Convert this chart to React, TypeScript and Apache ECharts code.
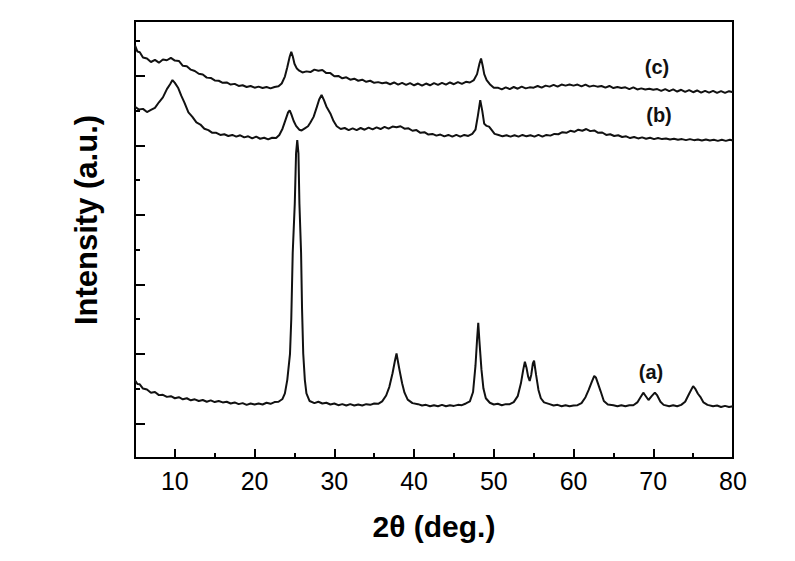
import React, { useEffect, useRef } from "react";
import * as echarts from "echarts";

// 2-theta (deg.) / intensity (a.u., offset traces) pairs
const seriesA: [number, number][] = [
  [5.0, 2.24], [5.3, 2.13], [5.6, 2.12], [6.0, 2.0], [6.5, 1.97], [7.0, 1.88], [7.5, 1.9], [8.0, 1.81],
  [8.5, 1.82], [9.0, 1.76], [9.5, 1.78], [10.0, 1.72], [10.5, 1.75], [11.0, 1.69], [11.5, 1.72], [12.0, 1.66],
  [12.5, 1.69], [13.0, 1.64], [13.5, 1.67], [14.0, 1.62], [14.5, 1.66], [15.0, 1.61], [15.5, 1.64], [16.0, 1.6],
  [16.5, 1.62], [17.0, 1.57], [17.5, 1.6], [18.0, 1.55], [18.5, 1.58], [19.0, 1.53], [19.5, 1.57], [20.0, 1.54],
  [20.5, 1.57], [21.0, 1.54], [21.5, 1.59], [22.0, 1.56], [22.5, 1.61], [23.0, 1.62], [23.5, 1.7], [23.8, 1.86],
  [24.1, 2.25], [24.44, 3.0], [24.6, 4.0], [24.78, 5.9], [25.04, 7.33], [25.2, 8.77], [25.35, 9.15], [25.5, 8.77],
  [25.62, 7.33], [25.83, 5.9], [25.95, 4.3], [26.1, 3.0], [26.3, 2.25], [26.5, 1.86], [26.9, 1.64], [27.5, 1.58],
  [28.0, 1.62], [28.5, 1.57], [29.0, 1.59], [29.5, 1.54], [30.0, 1.57], [30.5, 1.52], [31.0, 1.55], [31.5, 1.51],
  [32.0, 1.55], [32.5, 1.51], [33.0, 1.54], [33.5, 1.51], [34.0, 1.55], [34.5, 1.53], [35.0, 1.57], [35.5, 1.56],
  [36.0, 1.63], [36.5, 1.8], [36.9, 2.05], [37.3, 2.44], [37.6, 2.8], [37.8, 3.01], [38.0, 2.75], [38.2, 2.5],
  [38.5, 2.15], [38.8, 1.88], [39.2, 1.68], [39.8, 1.58], [40.5, 1.55], [41.0, 1.51], [41.5, 1.53], [42.0, 1.49],
  [42.5, 1.52], [43.0, 1.49], [43.5, 1.53], [44.0, 1.49], [44.5, 1.52], [45.0, 1.5], [45.5, 1.53], [46.0, 1.52],
  [46.5, 1.57], [47.0, 1.63], [47.4, 1.9], [47.7, 2.65], [47.9, 3.4], [48.05, 3.89], [48.2, 3.35], [48.45, 2.55],
  [48.7, 2.0], [49.0, 1.72], [49.5, 1.59], [50.0, 1.54], [50.5, 1.56], [51.0, 1.52], [51.5, 1.55], [52.0, 1.55],
  [52.5, 1.61], [53.0, 1.78], [53.4, 2.15], [53.7, 2.55], [53.9, 2.77], [54.1, 2.6], [54.3, 2.35], [54.5, 2.22],
  [54.7, 2.4], [54.9, 2.72], [55.05, 2.8], [55.3, 2.4], [55.6, 1.96], [55.9, 1.72], [56.3, 1.6], [57.0, 1.55],
  [57.5, 1.51], [58.0, 1.53], [58.5, 1.49], [59.0, 1.52], [59.5, 1.49], [60.0, 1.51], [60.5, 1.52], [61.0, 1.58],
  [61.5, 1.75], [61.9, 1.96], [62.3, 2.2], [62.6, 2.36], [62.8, 2.32], [63.1, 2.12], [63.4, 1.92], [63.8, 1.64],
  [64.3, 1.54], [65.0, 1.52], [65.5, 1.49], [66.0, 1.52], [66.5, 1.49], [67.0, 1.52], [67.5, 1.52], [68.0, 1.6],
  [68.4, 1.75], [68.75, 1.88], [69.0, 1.8], [69.4, 1.67], [69.8, 1.78], [70.2, 1.88], [70.5, 1.8], [70.9, 1.62],
  [71.3, 1.53], [72.0, 1.49], [72.5, 1.52], [73.0, 1.49], [73.5, 1.53], [74.0, 1.62], [74.5, 1.85], [75.0, 2.07],
  [75.3, 1.98], [75.6, 1.85], [75.9, 1.76], [76.3, 1.6], [76.8, 1.53], [77.5, 1.49], [78.0, 1.51], [78.5, 1.47],
  [79.0, 1.5], [79.5, 1.47], [80.0, 1.49],
];

const seriesB: [number, number][] = [
  [5.0, 10.11], [5.5, 10.03], [6.0, 10.05], [6.5, 9.96], [7.0, 10.02], [7.5, 10.08], [8.0, 10.24], [8.5, 10.38],
  [9.0, 10.62], [9.4, 10.76], [9.7, 10.88], [10.0, 10.8], [10.4, 10.66], [10.8, 10.43], [11.2, 10.23], [11.7, 9.95],
  [12.2, 9.82], [12.7, 9.66], [13.2, 9.6], [13.7, 9.48], [14.2, 9.44], [14.7, 9.36], [15.2, 9.36], [15.7, 9.3],
  [16.2, 9.32], [16.7, 9.27], [17.2, 9.3], [17.7, 9.25], [18.2, 9.29], [18.7, 9.23], [19.2, 9.26], [19.7, 9.2],
  [20.2, 9.25], [20.7, 9.19], [21.2, 9.22], [21.7, 9.17], [22.2, 9.22], [22.7, 9.21], [23.1, 9.3], [23.5, 9.48],
  [23.9, 9.75], [24.2, 9.95], [24.4, 10.01], [24.6, 9.9], [24.9, 9.7], [25.2, 9.56], [25.6, 9.45], [25.9, 9.43],
  [26.3, 9.49], [26.7, 9.55], [27.0, 9.66], [27.4, 9.82], [27.8, 10.1], [28.1, 10.32], [28.4, 10.45], [28.7, 10.3],
  [29.0, 10.12], [29.5, 9.92], [29.9, 9.7], [30.3, 9.55], [30.8, 9.47], [31.3, 9.5], [31.8, 9.44], [32.3, 9.49],
  [32.8, 9.44], [33.3, 9.5], [33.8, 9.45], [34.3, 9.51], [34.8, 9.46], [35.3, 9.52], [35.8, 9.47], [36.3, 9.53],
  [36.8, 9.48], [37.3, 9.54], [37.8, 9.52], [38.3, 9.55], [38.8, 9.48], [39.3, 9.49], [39.8, 9.42], [40.3, 9.44],
  [40.8, 9.36], [41.3, 9.38], [41.8, 9.31], [42.3, 9.33], [42.8, 9.28], [43.3, 9.31], [43.8, 9.26], [44.3, 9.3],
  [44.8, 9.25], [45.3, 9.3], [45.8, 9.25], [46.3, 9.3], [46.8, 9.27], [47.3, 9.33], [47.7, 9.45], [48.0, 9.85],
  [48.3, 10.3], [48.55, 10.0], [48.8, 9.62], [49.1, 9.56], [49.4, 9.54], [49.7, 9.45], [50.1, 9.33], [50.6, 9.3],
  [51.1, 9.26], [51.6, 9.29], [52.1, 9.25], [52.6, 9.29], [53.1, 9.25], [53.6, 9.3], [54.1, 9.26], [54.6, 9.29],
  [55.1, 9.25], [55.6, 9.3], [56.1, 9.25], [56.6, 9.3], [57.1, 9.28], [57.6, 9.33], [58.1, 9.32], [58.6, 9.38],
  [59.1, 9.36], [59.6, 9.42], [60.1, 9.39], [60.6, 9.45], [61.1, 9.42], [61.6, 9.47], [62.1, 9.41], [62.6, 9.43],
  [63.1, 9.36], [63.6, 9.37], [64.1, 9.3], [64.6, 9.32], [65.1, 9.27], [65.6, 9.29], [66.1, 9.24], [66.6, 9.26],
  [67.1, 9.21], [67.6, 9.24], [68.1, 9.2], [68.6, 9.23], [69.1, 9.19], [69.6, 9.22], [70.1, 9.18], [70.6, 9.21],
  [71.1, 9.18], [71.6, 9.2], [72.1, 9.17], [72.6, 9.19], [73.1, 9.16], [73.6, 9.18], [74.1, 9.15], [74.6, 9.18],
  [75.1, 9.15], [75.6, 9.17], [76.1, 9.14], [76.6, 9.17], [77.1, 9.14], [77.6, 9.16], [78.1, 9.13], [78.6, 9.16],
  [79.1, 9.13], [79.6, 9.16], [80.0, 9.14],
];

const seriesC: [number, number][] = [
  [5.0, 11.88], [5.3, 11.7], [5.6, 11.68], [6.0, 11.53], [6.5, 11.5], [7.0, 11.4], [7.5, 11.46], [8.0, 11.38],
  [8.5, 11.47], [9.0, 11.45], [9.5, 11.52], [10.0, 11.44], [10.5, 11.43], [11.0, 11.29], [11.5, 11.28], [12.0, 11.18],
  [12.5, 11.14], [13.0, 11.06], [13.5, 11.04], [14.0, 10.95], [14.5, 10.94], [15.0, 10.87], [15.5, 10.86], [16.0, 10.8],
  [16.5, 10.81], [17.0, 10.75], [17.5, 10.77], [18.0, 10.71], [18.5, 10.73], [19.0, 10.68], [19.5, 10.71], [20.0, 10.66],
  [20.5, 10.69], [21.0, 10.65], [21.5, 10.68], [22.0, 10.64], [22.5, 10.68], [23.0, 10.7], [23.4, 10.78], [23.8, 10.98],
  [24.1, 11.25], [24.4, 11.55], [24.6, 11.69], [24.8, 11.55], [25.0, 11.35], [25.3, 11.21], [25.6, 11.15], [26.0, 11.1],
  [26.5, 11.13], [27.0, 11.11], [27.5, 11.18], [28.0, 11.15], [28.5, 11.17], [29.0, 11.08], [29.5, 11.08], [30.0, 10.99],
  [30.5, 11.0], [31.0, 10.93], [31.5, 10.96], [32.0, 10.89], [32.5, 10.92], [33.0, 10.86], [33.5, 10.89], [34.0, 10.83],
  [34.5, 10.86], [35.0, 10.8], [35.5, 10.82], [36.0, 10.79], [36.5, 10.81], [37.0, 10.76], [37.5, 10.81], [38.0, 10.75],
  [38.5, 10.8], [39.0, 10.74], [39.5, 10.79], [40.0, 10.73], [40.5, 10.78], [41.0, 10.72], [41.5, 10.78], [42.0, 10.73],
  [42.5, 10.79], [43.0, 10.74], [43.5, 10.8], [44.0, 10.75], [44.5, 10.81], [45.0, 10.76], [45.5, 10.82], [46.0, 10.77],
  [46.5, 10.83], [47.0, 10.81], [47.5, 10.88], [47.9, 11.05], [48.2, 11.35], [48.4, 11.5], [48.6, 11.3], [48.8, 11.05],
  [49.1, 10.88], [49.5, 10.76], [50.0, 10.66], [50.5, 10.66], [51.0, 10.61], [51.5, 10.67], [52.0, 10.62], [52.5, 10.68],
  [53.0, 10.63], [53.5, 10.69], [54.0, 10.64], [54.5, 10.67], [55.0, 10.66], [55.5, 10.71], [56.0, 10.66], [56.5, 10.72],
  [57.0, 10.69], [57.5, 10.74], [58.0, 10.69], [58.5, 10.75], [59.0, 10.72], [59.5, 10.75], [60.0, 10.72], [60.5, 10.75],
  [61.0, 10.7], [61.5, 10.75], [62.0, 10.69], [62.5, 10.72], [63.0, 10.69], [63.5, 10.71], [64.0, 10.66], [64.5, 10.71],
  [65.0, 10.65], [65.5, 10.68], [66.0, 10.65], [66.5, 10.67], [67.0, 10.62], [67.5, 10.67], [68.0, 10.61], [68.5, 10.64],
  [69.0, 10.61], [69.5, 10.63], [70.0, 10.6], [70.5, 10.62], [71.0, 10.57], [71.5, 10.62], [72.0, 10.56], [72.5, 10.61],
  [73.0, 10.55], [73.5, 10.6], [74.0, 10.54], [74.5, 10.59], [75.0, 10.53], [75.5, 10.58], [76.0, 10.52], [76.5, 10.57],
  [77.0, 10.52], [77.5, 10.57], [78.0, 10.51], [78.5, 10.56], [79.0, 10.51], [79.5, 10.56], [80.0, 10.53],
];

const seriesNames = ["(a)", "(b)", "(c)"];
const xRange = [5, 80];
const xMajorTicks = [10, 20, 30, 40, 50, 60, 70, 80];
const xMinorStep = 5;
const yRange = [0, 12.58];
const yMajorTicks = [1, 3, 5, 7, 9, 11];
const yMinorStep = 1;
const xTitle = "2\u03b8 (deg.)";
const yTitle = "Intensity (a.u.)";

const FONT = "'Liberation Sans', Arial, Helvetica, sans-serif";

export default function App() {
  const ref = useRef<HTMLDivElement>(null);
  useEffect(() => {
    if (!ref.current) return;
    const chart = echarts.init(ref.current, undefined, { renderer: "svg" });
    const grid = { left: 135, right: 62, top: 21, bottom: 103 };
    const lineSeries = [seriesA, seriesB, seriesC].map((d, i) => ({
      name: seriesNames[i],
      type: "line" as const,
      data: d,
      xAxisIndex: 0,
      yAxisIndex: 0,
      showSymbol: false,
      symbol: "none",
      smooth: false,
      lineStyle: { color: "#111", width: 2 },
      silent: true,
    }));
    const tickStyle = { color: "#000", width: 2 };
    chart.setOption({
      animation: false,
      backgroundColor: "#fff",
      grid: { ...grid, show: true, borderColor: "#000", borderWidth: 2, backgroundColor: "transparent" },
      xAxis: [
        {
          type: "value",
          min: xRange[0],
          max: xRange[1],
          position: "bottom",
          axisLine: { show: false, onZero: false },
          axisTick: { show: true, inside: true, length: 9, lineStyle: tickStyle, customValues: xMajorTicks },
          axisLabel: {
            show: true,
            margin: 10,
            fontSize: 25,
            fontFamily: FONT,
            color: "#000",
            customValues: xMajorTicks,
          },
          splitLine: { show: false },
        },
        {
          type: "value",
          min: xRange[0],
          max: xRange[1],
          interval: xMinorStep,
          position: "bottom",
          axisLine: { show: false, onZero: false },
          axisTick: { show: true, inside: true, length: 5, lineStyle: tickStyle },
          axisLabel: { show: false },
          splitLine: { show: false },
        },
      ],
      yAxis: [
        {
          type: "value",
          min: yRange[0],
          max: yRange[1],
          interval: yMinorStep,
          position: "left",
          axisLine: { show: false, onZero: false },
          axisTick: { show: true, inside: true, length: 5, lineStyle: tickStyle },
          axisLabel: { show: false },
          splitLine: { show: false },
        },
        {
          type: "value",
          min: yRange[0],
          max: yRange[1],
          position: "left",
          axisLine: { show: false, onZero: false },
          axisTick: { show: true, inside: true, length: 10, lineStyle: tickStyle, customValues: yMajorTicks },
          axisLabel: { show: false },
          splitLine: { show: false },
        },
      ],
      series: lineSeries,
      graphic: [
        {
          type: "text",
          x: 434,
          y: 526,
          style: {
            text: xTitle,
            font: `bold 30px ${FONT}`,
            fill: "#000",
            align: "center",
            verticalAlign: "middle",
          },
        },
        {
          type: "text",
          x: 86,
          y: 220,
          rotation: Math.PI / 2,
          style: {
            text: yTitle,
            font: `bold 31px ${FONT}`,
            fill: "#000",
            align: "center",
            verticalAlign: "middle",
          },
        },
        {
          type: "text",
          x: 651,
          y: 372,
          style: { text: seriesNames[0], font: `bold 20px ${FONT}`, fill: "#111", align: "center", verticalAlign: "middle" },
        },
        {
          type: "text",
          x: 659,
          y: 115,
          style: { text: seriesNames[1], font: `bold 20px ${FONT}`, fill: "#111", align: "center", verticalAlign: "middle" },
        },
        {
          type: "text",
          x: 657,
          y: 67,
          style: { text: seriesNames[2], font: `bold 20px ${FONT}`, fill: "#111", align: "center", verticalAlign: "middle" },
        },
      ],
    });
    return () => chart.dispose();
  }, []);
  return <div ref={ref} style={{ width: 795, height: 561, position: "absolute", left: 0, top: 0 }} />;
}
